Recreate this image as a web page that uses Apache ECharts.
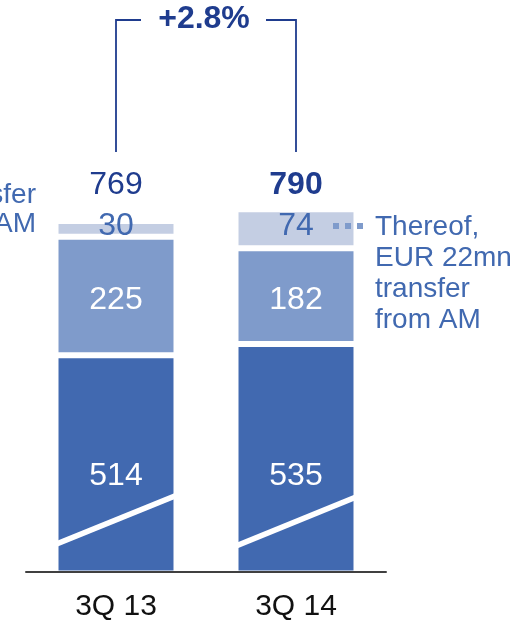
<!DOCTYPE html>
<html>
<head>
<meta charset="utf-8">
<script src="https://cdn.jsdelivr.net/npm/echarts@6/dist/echarts.min.js"></script>
<style>
  html, body { margin: 0; padding: 0; background: #ffffff; }
  #chart { width: 527px; height: 624px; }
</style>
</head>
<body>
<div id="chart"></div>
<script>
// Quarterly revenue split, EUR mn
const categories = ['3Q 13', '3Q 14'];
const coreValues = [514, 535];
const midValues = [225, 182];
const topValues = [30, 74];
const totals = [769, 790];
const growthLabel = '+2.8%';
// Axis-break slash across the lower segment (value at left / right bar edge)
const breakFrom = [155, 152];
const breakTo = [247, 244];

const FONT = "'Liberation Sans', Arial, sans-serif";
const DARK_TEXT = '#1f3c8e';
const C_CORE = '#4169b0';
const C_MID = '#7f9bcb';
const C_TOP = '#c4cee3';
const BAR_W = 121;
const VAL_SIZE = 32;

const chart = echarts.init(document.getElementById('chart'), null, { renderer: 'canvas' });

const barBase = {
  type: 'bar',
  stack: 'total',
  barWidth: BAR_W,
  clip: true,
  itemStyle: { borderColor: '#ffffff', borderWidth: 3 }
};

const option = {
  animation: false,
  backgroundColor: '#ffffff',
  grid: { left: 26, right: 141, top: 152, bottom: 52, containLabel: false },
  xAxis: [
    {
      type: 'category',
      data: categories,
      z: 5,
      axisLine: { show: true, lineStyle: { color: '#404040', width: 2 } },
      axisTick: { show: false },
      axisLabel: { color: '#111111', fontSize: 30, fontFamily: FONT, margin: 20 }
    },
    {
      type: 'category',
      data: categories,
      position: 'top',
      axisLine: { show: false },
      axisTick: { show: false },
      axisLabel: {
        inside: true,
        margin: 17,
        formatter: (v, i) => (i === totals.length - 1 ? '{b|' + totals[i] + '}' : '{n|' + totals[i] + '}'),
        rich: {
          n: { color: DARK_TEXT, fontSize: VAL_SIZE, fontFamily: FONT },
          b: { color: DARK_TEXT, fontSize: VAL_SIZE, fontFamily: FONT, fontWeight: 'bold' }
        }
      }
    }
  ],
  yAxis: {
    type: 'value',
    min: 102,
    max: 900,
    show: false,
    splitLine: { show: false }
  },
  series: [
    Object.assign({}, barBase, {
      name: 'core',
      data: coreValues,
      itemStyle: Object.assign({}, barBase.itemStyle, { color: C_CORE }),
      label: { show: true, position: 'insideBottom', distance: 5, offset: [0, -76], color: '#ffffff', fontSize: VAL_SIZE, fontFamily: FONT }
    }),
    Object.assign({}, barBase, {
      name: 'mid',
      data: midValues,
      itemStyle: Object.assign({}, barBase.itemStyle, { color: C_MID }),
      label: { show: true, position: 'inside', offset: [0, 4], color: '#ffffff', fontSize: VAL_SIZE, fontFamily: FONT }
    }),
    Object.assign({}, barBase, {
      name: 'top',
      data: topValues,
      itemStyle: Object.assign({}, barBase.itemStyle, { color: C_TOP }),
      label: { show: true, position: 'inside', offset: [0, -3], color: C_CORE, fontSize: VAL_SIZE, fontFamily: FONT }
    }),
    {
      // white slash marking the truncated value axis
      type: 'custom',
      z: 3,
      data: categories.map((c, i) => [i, breakFrom[i], breakTo[i]]),
      renderItem: function (params, api) {
        const idx = api.value(0);
        const half = (BAR_W - 3) / 2;
        const pL = api.coord([idx, api.value(1)]);
        const pR = api.coord([idx, api.value(2)]);
        const xl = pL[0] - half - 0.5, xr = pR[0] + half + 0.5;
        const t = 3;
        return {
          type: 'polygon',
          shape: { points: [[xl, pL[1] - t], [xr, pR[1] - t], [xr, pR[1] + t], [xl, pL[1] + t]] },
          style: { fill: '#ffffff' }
        };
      }
    }
  ]
};

chart.setOption(option);

// Growth bracket linking both bar centres
const x1 = chart.convertToPixel({ xAxisIndex: 0 }, categories[0]);
const x2 = chart.convertToPixel({ xAxisIndex: 0 }, categories[1]);
const mid = (x1 + x2) / 2;
const bracketTop = 20, bracketBottom = 152;

chart.setOption({
  graphic: [
    {
      type: 'polyline',
      z: 10,
      shape: { points: [[x1, bracketBottom], [x1, bracketTop], [mid - 65, bracketTop]] },
      style: { stroke: DARK_TEXT, lineWidth: 1.8, fill: null }
    },
    {
      type: 'polyline',
      z: 10,
      shape: { points: [[mid + 60, bracketTop], [x2, bracketTop], [x2, bracketBottom]] },
      style: { stroke: DARK_TEXT, lineWidth: 1.8, fill: null }
    },
    {
      type: 'text',
      z: 10,
      x: mid - 2,
      y: 19,
      style: { text: growthLabel, fill: DARK_TEXT, font: 'bold 32px ' + FONT, textAlign: 'center', textVerticalAlign: 'middle' }
    },
    {
      type: 'line',
      z: 10,
      shape: { x1: 333, y1: 226, x2: 366, y2: 226 },
      style: { stroke: C_MID, lineWidth: 6, lineDash: [6, 6] }
    },
    {
      type: 'text',
      z: 10,
      x: 375,
      y: 212,
      style: { text: 'Thereof,\nEUR 22mn\ntransfer\nfrom AM', fill: C_CORE, font: '28px ' + FONT, lineHeight: 31, textAlign: 'left', textVerticalAlign: 'top' }
    },
    {
      type: 'text',
      z: 10,
      x: 36,
      y: 181,
      style: { text: 'transfer\nfrom AM', fill: C_CORE, font: '28px ' + FONT, lineHeight: 29, textAlign: 'right', textVerticalAlign: 'top' }
    }
  ]
});
</script>
</body>
</html>
